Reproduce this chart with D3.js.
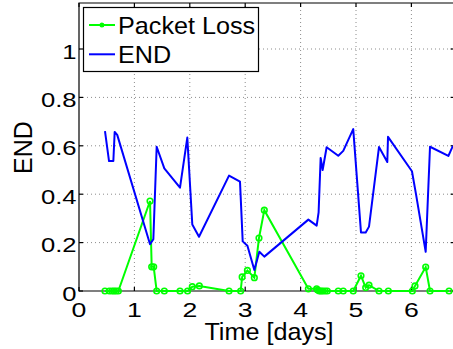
<!DOCTYPE html>
<html><head><meta charset="utf-8">
<script src="https://cdn.jsdelivr.net/npm/d3@7"></script>
<style>body{margin:0;background:#fff}svg{display:block}text{font-family:"Liberation Sans",Arial,Helvetica,sans-serif;fill:#000}</style>
</head><body>
<svg id="chart" width="453" height="349"></svg>
<script>
// ---- data ----
const endTime = [0.469,0.542,0.62,0.644,0.69,1.282,1.342,1.402,1.54,1.823,1.955,2.045,2.166,2.708,2.906,2.955,3.04,3.165,3.255,3.345,4.14,4.29,4.325,4.362,4.398,4.47,4.68,4.77,4.95,5.09,5.175,5.235,5.415,5.565,5.578,6.01,6.083,6.258,6.336,6.667,6.75];
const endValue = [0.661,0.537,0.537,0.657,0.645,0.193,0.214,0.596,0.507,0.427,0.634,0.275,0.224,0.477,0.452,0.205,0.187,0.087,0.162,0.142,0.295,0.27,0.325,0.55,0.5,0.594,0.559,0.579,0.669,0.242,0.242,0.266,0.595,0.533,0.637,0.495,0.4,0.162,0.596,0.558,0.6];
const lossTime = [0.469,0.547,0.596,0.632,0.668,0.71,1.282,1.312,1.348,1.402,1.54,1.823,1.96,2.045,2.172,2.708,2.918,2.945,3.04,3.165,3.249,3.345,4.14,4.29,4.308,4.338,4.368,4.398,4.44,4.482,4.68,4.77,4.95,5.09,5.175,5.235,5.415,5.584,6.017,6.065,6.258,6.336,6.68];
const lossValue = [0,0,0,0,0,0,0.372,0.1,0.1,0,0,0,0,0.018,0.021,0,0,0.058,0.085,0.055,0.219,0.334,0.009,0.009,0.004,0,0,0,0,0,0,0,0,0.063,0.014,0.024,0,0,0,0.021,0.099,0,0];
const xTicks = [0,1,2,3,4,5,6];
const yTicks = [0,0.2,0.4,0.6,0.8,1];
const yTickLabels = ["0","0.2","0.4","0.6","0.8","1"];
const seriesNames = ["Packet Loss","END"];
const seriesColors = ["#00ff00","#0000ff"];

const svg = d3.select("#chart");
const x = d3.scaleLinear().domain([0,1]).range([79,134.4]);
const y = d3.scaleLinear().domain([0,1]).range([291,49]);
const xMax = 6.78, yMax = 1.19;
const L = x(0), R = x(xMax), B = y(0), T = y(yMax);

// grid
const grid = svg.append("g").attr("stroke","#8c8c8c").attr("stroke-width",1).attr("stroke-dasharray","1,3");
xTicks.filter(d=>d>0).forEach(d=>grid.append("line").attr("x1",x(d)).attr("x2",x(d)).attr("y1",B).attr("y2",T));
yTicks.filter(d=>d>0).forEach(d=>grid.append("line").attr("x1",L).attr("x2",R).attr("y1",y(d)).attr("y2",y(d)));

// axes box
const ax = svg.append("g").attr("stroke","#000").attr("stroke-width",1.2).attr("fill","none");
ax.append("path").attr("d",`M${R},${T}H${L}V${B}H${R}V${T}`);
xTicks.forEach(d=>{
  ax.append("line").attr("x1",x(d)).attr("x2",x(d)).attr("y1",B).attr("y2",B-4);
  ax.append("line").attr("x1",x(d)).attr("x2",x(d)).attr("y1",T).attr("y2",T+4);
});
yTicks.forEach(d=>{
  ax.append("line").attr("x1",L).attr("x2",L+4).attr("y1",y(d)).attr("y2",y(d));
  ax.append("line").attr("x1",R).attr("x2",R-4).attr("y1",y(d)).attr("y2",y(d));
});

// tick labels
xTicks.forEach(d=>{
  svg.append("text").attr("transform",`translate(${x(d)},316.7) scale(1.3,1)`)
    .attr("text-anchor","middle").style("font-size","20.5px").text(d);
});
yTicks.forEach((d,i)=>{
  svg.append("text").attr("transform",`translate(76.5,${y(d)+9.5}) scale(1.25,1)`)
    .attr("text-anchor","end").style("font-size","20.5px").text(yTickLabels[i]);
});

// axis labels
svg.append("text").attr("transform","translate(269,340) scale(1.05,1)").attr("text-anchor","middle")
  .style("font-size","24px").text("Time [days]");
svg.append("text").attr("transform","translate(32,147.5) rotate(-90)").attr("text-anchor","middle")
  .style("font-size","25px").text("END");

// data
const lossData = lossTime.map((t,i)=>[t,lossValue[i]]);
const endData = endTime.map((t,i)=>[t,endValue[i]]);
const line = d3.line().x(d=>x(d[0])).y(d=>y(d[1]));
svg.append("path").datum(lossData).attr("d",line).attr("fill","none")
  .attr("stroke",seriesColors[0]).attr("stroke-width",2);
svg.append("g").selectAll("circle").data(lossData).join("circle")
  .attr("cx",d=>x(d[0])).attr("cy",d=>y(d[1])).attr("r",2.8)
  .attr("fill","none").attr("stroke",seriesColors[0]).attr("stroke-width",1.6);
svg.append("path").datum(endData).attr("d",line).attr("fill","none")
  .attr("stroke",seriesColors[1]).attr("stroke-width",2).attr("stroke-linejoin","round");

// legend
const lg = svg.append("g");
lg.append("rect").attr("x",83.5).attr("y",7.5).attr("width",175).attr("height",64)
  .attr("fill","#fff").attr("stroke","#000").attr("stroke-width",1.2);
[25,54.3].forEach((ly,i)=>{
  lg.append("line").attr("x1",89).attr("x2",115).attr("y1",ly).attr("y2",ly)
    .attr("stroke",seriesColors[i]).attr("stroke-width",2);
  if(i===0) lg.append("circle").attr("cx",102).attr("cy",ly).attr("r",1.8)
    .attr("fill","none").attr("stroke",seriesColors[0]).attr("stroke-width",1.4);
  lg.append("text").attr("transform",`translate(118,${ly+8.5}) scale(1.05,1)`)
    .style("font-size","24px").text(seriesNames[i]);
});
</script>
</body></html>
